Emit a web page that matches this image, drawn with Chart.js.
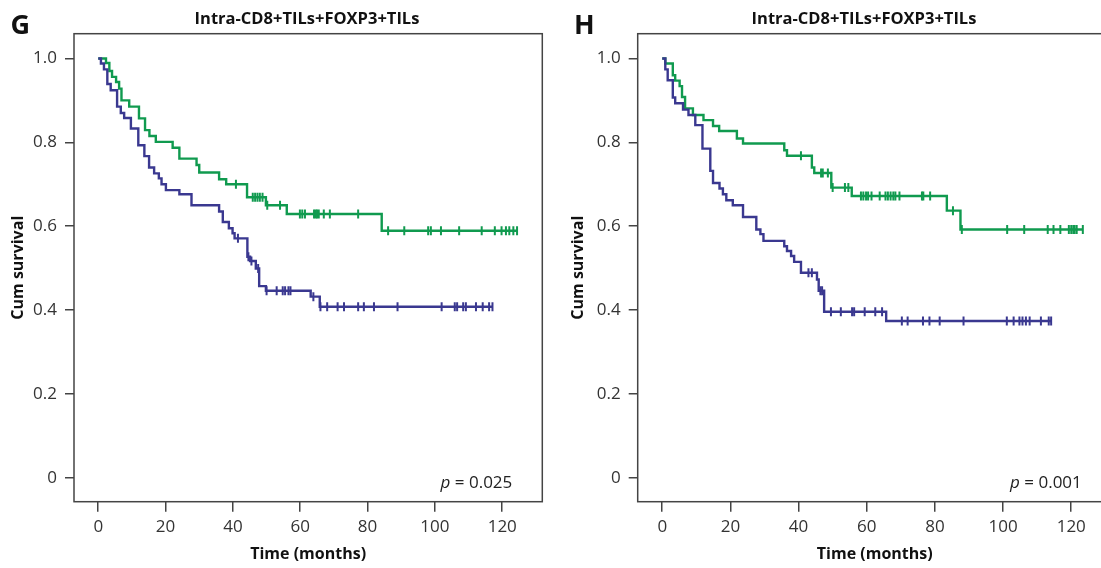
<!DOCTYPE html>
<html>
<head>
<meta charset="utf-8">
<script src="https://cdn.jsdelivr.net/npm/chart.js@4.4.1/dist/chart.umd.min.js"></script>
<style>
  html, body { margin: 0; padding: 0; overflow: hidden; background: #fff; width: 1101px; height: 568px; }
  canvas { position: absolute; top: 0; }
  #chartG { left: 0; }
  #chartH { left: 560px; }
</style>
</head>
<body>
<canvas id="chartG" width="550" height="568"></canvas>
<canvas id="chartH" width="560" height="568"></canvas>
<script>
// axis ticks
const xTicks = [0, 20, 40, 60, 80, 100, 120];
const yTicks = [0, 0.2, 0.4, 0.6, 0.8, 1.0];
const yTickLabels = ["0", "0.2", "0.4", "0.6", "0.8", "1.0"];

// panel G - green group (drop times, survival after drop, censored times)
const gGreenTime = [0, 2.3, 3.3, 4.1, 5.3, 6.2, 6.9, 9.2, 12.1, 13.9, 15.2, 17.1, 22.1, 24.1, 29.2, 30.0, 35.9, 38.0, 44.2, 49.8, 56.0, 84.2];
const gGreenSurv = [1.0, 0.989, 0.970, 0.956, 0.944, 0.928, 0.900, 0.885, 0.857, 0.829, 0.815, 0.801, 0.787, 0.761, 0.746, 0.728, 0.712, 0.700, 0.669, 0.650, 0.629, 0.589];
const gGreenCens = [40.9, 45.9, 46.6, 47.3, 48.0, 48.8, 50.2, 54.0, 59.9, 60.6, 61.4, 64.1, 64.6, 65.0, 65.5, 67.0, 68.8, 77.2, 86.1, 90.9, 98.0, 98.8, 101.8, 107.2, 113.9, 117.8, 119.8, 121.1, 122.1, 123.3, 124.4];

// panel G - purple group
const gPurpleTime = [0, 0.8, 1.7, 2.7, 3.7, 5.6, 6.7, 7.7, 9.7, 11.9, 13.7, 15.1, 16.6, 18.0, 18.8, 20.1, 24.1, 27.7, 35.9, 37.0, 38.8, 39.9, 40.5, 44.3, 45.1, 46.8, 47.8, 49.8, 63.1, 65.8];
const gPurpleSurv = [1.0, 0.988, 0.974, 0.939, 0.924, 0.885, 0.870, 0.858, 0.833, 0.793, 0.767, 0.740, 0.726, 0.714, 0.700, 0.686, 0.676, 0.650, 0.635, 0.610, 0.595, 0.583, 0.571, 0.527, 0.517, 0.499, 0.457, 0.446, 0.432, 0.408];
const gPurpleCens = [41.5, 44.6, 45.5, 47.5, 50.0, 53.0, 54.8, 55.5, 56.5, 57.1, 63.9, 66.0, 68.0, 71.1, 73.0, 77.2, 78.9, 81.9, 88.9, 102.0, 105.9, 106.6, 108.4, 109.2, 112.2, 114.2, 116.1, 117.1];

// panel H - green group
const hGreenTime = [0, 0.9, 3.1, 3.8, 5.1, 5.8, 6.7, 9.0, 12.1, 14.9, 16.7, 21.9, 23.7, 35.8, 36.6, 43.9, 44.6, 49.6, 55.6, 83.5, 87.5];
const hGreenSurv = [1.0, 0.988, 0.960, 0.947, 0.934, 0.908, 0.881, 0.865, 0.853, 0.839, 0.827, 0.809, 0.797, 0.781, 0.768, 0.740, 0.727, 0.692, 0.672, 0.637, 0.592];
const hGreenCens = [40.7, 46.6, 47.1, 48.6, 50.0, 53.6, 54.6, 58.3, 59.0, 59.8, 60.4, 61.4, 63.8, 65.5, 66.2, 67.0, 67.8, 68.4, 69.6, 76.2, 76.6, 78.6, 85.3, 87.9, 101.2, 106.2, 113.1, 114.8, 116.8, 119.3, 120.0, 120.6, 121.0, 121.6, 123.4];

// panel H - purple group
const hPurpleTime = [0, 0.9, 1.6, 3.1, 3.8, 6.1, 7.7, 9.7, 11.8, 14.1, 14.9, 16.8, 17.8, 18.8, 20.7, 23.7, 27.6, 28.8, 29.7, 35.8, 36.6, 37.8, 38.7, 40.7, 45.4, 45.9, 47.5, 65.7];
const hPurpleSurv = [1.0, 0.974, 0.948, 0.907, 0.893, 0.878, 0.865, 0.841, 0.785, 0.732, 0.703, 0.690, 0.676, 0.662, 0.650, 0.622, 0.592, 0.581, 0.565, 0.552, 0.541, 0.529, 0.515, 0.489, 0.473, 0.446, 0.396, 0.374];
const hPurpleCens = [42.9, 43.9, 46.4, 46.9, 49.5, 52.4, 55.7, 56.3, 59.4, 62.5, 64.5, 70.3, 72.0, 76.5, 78.4, 81.4, 88.4, 101.1, 103.1, 104.8, 105.7, 106.7, 107.8, 111.1, 113.4, 114.1];

const GREEN = "#109a4f";
const PURPLE = "#3a3890";
const FONT = "'Open Sans', 'Noto Sans', sans-serif";

function stepPoints(times, surv, cens) {
    const pts = times.map((t, i) => ({ x: t, y: surv[i] }));
    pts.push({ x: cens[cens.length - 1], y: surv[surv.length - 1] });
    return pts;
}

function censorPoints(times, surv, cens) {
    return cens.map(t => {
        let s = surv[0];
        times.forEach((tt, i) => { if (tt <= t) s = surv[i]; });
        return { x: t, y: s };
    });
}

function curve(times, surv, cens, color) {
    return [
        {
            data: stepPoints(times, surv, cens),
            borderColor: color, borderWidth: 2.4, stepped: "before",
            pointRadius: 0, fill: false
        },
        {
            data: censorPoints(times, surv, cens),
            showLine: false, pointStyle: "line", rotation: 90,
            pointRadius: 4.5, pointBorderWidth: 2,
            pointBorderColor: color, pointBackgroundColor: color
        }
    ];
}

const boxPlugin = {
    id: "box",
    afterDraw(chart) {
        const a = chart.chartArea;
        const ctx = chart.ctx;
        ctx.save();
        ctx.strokeStyle = "#444";
        ctx.lineWidth = 1.5;
        ctx.strokeRect(a.left, a.top, a.right - a.left, a.bottom - a.top);
        ctx.restore();
    }
};

const labelPlugin = {
    id: "labels",
    afterDraw(chart, args, opts) {
        const ctx = chart.ctx;
        const a = chart.chartArea;
        ctx.save();
        ctx.fillStyle = "#111";
        ctx.textBaseline = "alphabetic";
        ctx.font = "bold 27px " + FONT;
        ctx.textAlign = "left";
        ctx.fillText(opts.letter, opts.letterX, 34);

        ctx.font = "bold 16.5px " + FONT;
        ctx.textAlign = "center";
        ctx.fillText(opts.title, opts.titleX, 23.5);

        // p value, right aligned inside the box
        ctx.fillStyle = "#222";
        ctx.textBaseline = "middle";
        ctx.textAlign = "left";
        const rest = " = " + opts.p;
        ctx.font = "17px " + FONT;
        const wRest = ctx.measureText(rest).width;
        ctx.font = "italic 17px " + FONT;
        const wP = ctx.measureText("p").width;
        const x0 = a.right - 30 - wRest - wP;
        ctx.fillText("p", x0, 483);
        ctx.font = "17px " + FONT;
        ctx.fillText(rest, x0 + wP, 483);
        ctx.restore();
    }
};

function makeChart(id, sets, yWidth, padRight, letter, letterX, titleX, p) {
    new Chart(document.getElementById(id), {
        type: "line",
        data: { datasets: sets },
        plugins: [boxPlugin, labelPlugin],
        options: {
            responsive: false,
            animation: false,
            layout: { padding: { top: 33.7, right: padRight, left: 0, bottom: 0 } },
            plugins: {
                legend: { display: false },
                tooltip: { enabled: false },
                labels: { letter: letter, letterX: letterX, title: "Intra-CD8+TILs+FOXP3+TILs", titleX: titleX, p: p }
            },
            scales: {
                x: {
                    type: "linear", min: -7.2, max: 131.9,
                    afterBuildTicks: s => { s.ticks = xTicks.map(v => ({ value: v })); },
                    afterFit: s => { s.height = 66.3; },
                    grid: { drawOnChartArea: false, tickLength: 10, color: "#444", lineWidth: 1.5 },
                    border: { display: false },
                    ticks: { color: "#333", font: { size: 17, family: FONT }, padding: 5, maxRotation: 0 },
                    title: { display: true, text: "Time (months)", color: "#111", font: { size: 16, weight: "bold", family: FONT }, padding: { bottom: 4, top: 0 } }
                },
                y: {
                    type: "linear", min: -0.057, max: 1.059,
                    afterBuildTicks: s => { s.ticks = yTicks.map(v => ({ value: v })); },
                    afterFit: s => { s.width = yWidth; },
                    grid: { drawOnChartArea: false, tickLength: 9, color: "#444", lineWidth: 1.5 },
                    border: { display: false },
                    ticks: {
                        color: "#333", font: { size: 17, family: FONT }, padding: 8,
                        callback: v => yTickLabels[yTicks.indexOf(Math.round(v * 10) / 10)]
                    },
                    title: { display: true, text: "Cum survival", color: "#111", font: { size: 16, weight: "bold", family: FONT }, padding: { top: 9, bottom: 0 } }
                }
            }
        }
    });
}

makeChart("chartG",
    [...curve(gPurpleTime, gPurpleSurv, gPurpleCens, PURPLE), ...curve(gGreenTime, gGreenSurv, gGreenCens, GREEN)],
    74, 7.7, "G", 10.6, 307, "0.025");

makeChart("chartH",
    [...curve(hPurpleTime, hPurpleSurv, hPurpleCens, PURPLE), ...curve(hGreenTime, hGreenSurv, hGreenCens, GREEN)],
    77.7, 8.2, "H", 14, 304, "0.001");
</script>
</body>
</html>
